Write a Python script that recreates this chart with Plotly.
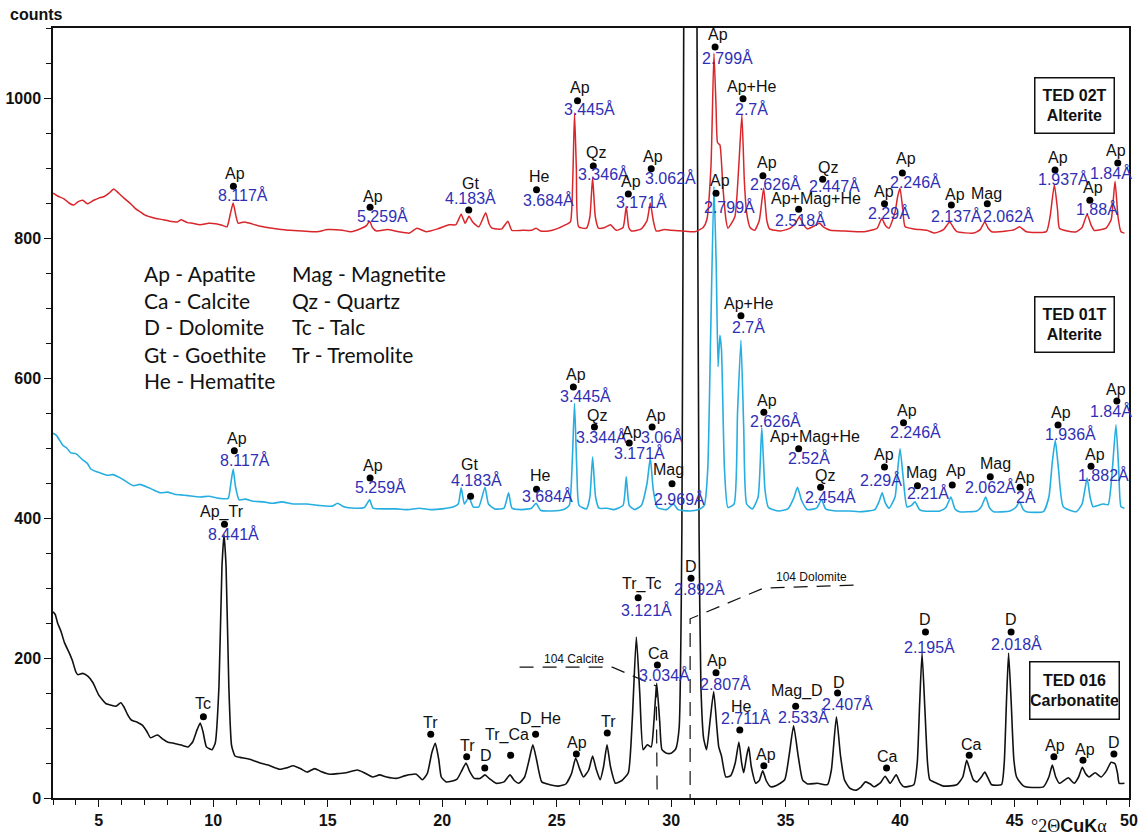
import plotly.graph_objects as go

# ---------------- data: diffractograms (2theta, counts) ----------------
black_x = [3.00,3.10,3.20,3.35,3.50,3.70,3.85,4.00,4.09,4.30,4.52,4.74,5.00,5.30,5.50,5.74,5.96,6.10,6.26,6.40,6.52,6.70,6.90,7.10,7.26,7.40,7.57,7.80,8.00,8.30,8.57,8.75,8.90,9.10,9.30,9.43,9.55,9.70,9.85,9.95,10.09,10.25,10.38,10.47,10.56,10.68,10.80,10.95,11.17,11.50,11.80,12.04,12.40,12.90,13.20,13.50,13.80,14.10,14.43,14.70,15.10,15.50,15.80,16.30,16.60,16.96,17.26,17.57,18.00,18.40,18.87,19.13,19.35,19.55,19.70,19.85,19.96,20.17,20.40,20.65,20.87,21.04,21.20,21.40,21.65,21.87,22.05,22.35,22.70,22.96,23.15,23.35,23.60,23.80,23.96,24.12,24.35,24.70,25.09,25.40,25.65,25.83,26.00,26.17,26.40,26.57,26.72,26.90,27.05,27.20,27.35,27.57,27.85,28.13,28.30,28.48,28.63,28.78,28.96,29.13,29.25,29.37,29.50,29.60,29.80,30.00,30.20,30.35,30.47,30.55,30.84,31.13,31.22,31.30,31.42,31.55,31.70,31.86,32.00,32.08,32.20,32.39,32.60,32.80,32.96,33.08,33.17,33.30,33.39,33.50,33.70,33.85,34.00,34.15,34.35,34.60,34.96,35.15,35.35,35.55,35.74,35.96,36.40,36.83,37.00,37.22,37.40,37.57,37.80,38.04,38.30,38.48,38.70,38.87,39.15,39.35,39.57,39.83,40.00,40.17,40.60,40.75,40.85,40.96,41.08,41.20,41.30,41.60,41.90,42.48,42.74,42.91,43.05,43.20,43.35,43.55,43.70,43.85,44.00,44.43,44.55,44.65,44.74,44.85,44.97,45.09,45.40,46.00,46.26,46.50,46.65,46.80,46.96,47.35,47.60,47.80,47.96,48.10,48.26,48.52,48.78,49.00,49.22,49.39,49.50,49.57,49.80]
black_y = [266,262,250,238,222,208,196,180,176,178,174,165,147,135,133,131,136,130,119,112,110,108,104,95,86,88,90,84,80,78,76,74,73,80,98,107,95,73,70,69,79,160,330,376,330,160,75,60,58,56,53,50,47,41,43,46,42,37,42,38,34,35,36,40,36,30,33,30,28,32,34,26,35,65,78,55,30,23,24,27,40,50,38,28,28,33,28,21,23,33,25,21,30,55,76,55,23,19,17,20,35,57,42,30,40,60,42,26,45,76,45,21,25,36,110,230,150,69,76,73,110,164,110,69,64,64,70,100,383,1100,3500,1100,383,160,85,69,110,152,100,73,60,30,32,50,80,50,36,60,73,45,21,25,39,25,16,18,26,60,103,60,26,20,21,19,40,116,60,26,14,11,16,23,20,16,22,31,21,33,22,16,19,50,130,207,130,50,26,21,17,19,30,54,40,26,23,30,37,28,19,19,50,140,207,140,55,30,17,15,16,30,47,30,21,29,21,30,44,35,30,36,30,38,51,49,35,21,21]

red_x = [3.00,3.20,3.48,3.70,3.90,4.10,4.30,4.50,4.78,5.00,5.22,5.45,5.65,5.87,6.10,6.39,6.60,6.83,7.00,7.26,7.50,7.83,8.10,8.43,8.60,8.87,9.10,9.43,9.80,10.17,10.40,10.60,10.75,10.87,11.00,11.09,11.35,11.60,12.00,12.35,12.80,13.35,13.90,14.52,15.00,15.65,16.00,16.48,16.70,16.83,16.95,17.13,17.60,18.10,18.57,18.90,19.30,19.80,20.30,20.60,20.83,21.00,21.17,21.35,21.60,21.90,22.05,22.17,22.60,22.87,23.04,23.50,23.90,24.10,24.30,24.65,25.00,25.40,25.60,25.70,25.78,25.86,25.96,26.30,26.45,26.57,26.69,26.83,27.10,27.35,27.60,27.90,28.04,28.15,28.26,28.70,28.95,29.09,29.22,29.35,29.70,30.00,30.50,31.04,31.40,31.56,31.74,31.87,31.96,32.03,32.13,32.26,32.40,32.48,32.78,32.95,33.09,33.20,33.30,33.45,33.65,33.85,34.04,34.18,34.30,34.78,35.20,35.45,35.60,35.80,35.96,36.30,36.48,36.65,36.96,37.60,38.43,39.00,39.20,39.36,39.52,39.78,39.90,40.00,40.12,40.22,40.60,41.17,41.52,41.90,42.17,42.35,42.48,43.22,43.50,43.70,43.85,44.00,44.65,45.00,45.22,45.52,46.39,46.55,46.74,46.88,46.96,47.30,47.70,47.95,48.17,48.35,48.48,48.80,49.00,49.22,49.39,49.52,49.65,49.80]
red_y = [864,860,856,850,847,852,854,849,854,857,859,864,870,864,857,849,842,837,833,830,828,826,824,823,826,822,821,819,821,820,818,816,835,850,830,821,823,821,817,815,813,811,810,809,812,811,809,814,818,824,815,810,812,809,807,814,809,813,819,819,834,821,831,822,816,836,820,814,813,824,811,811,811,814,810,810,813,819,823,880,979,900,816,814,830,886,830,814,815,819,811,815,845,815,810,813,825,850,825,810,812,811,810,809,815,826,902,1064,990,936,933,873,825,814,830,900,976,880,836,815,811,825,871,825,813,810,814,822,830,818,813,818,821,816,811,810,809,814,828,818,814,837,860,871,840,816,813,811,807,812,823,814,809,807,812,823,814,809,810,812,816,809,809,830,876,840,814,810,809,815,834,818,811,812,814,826,881,830,809,807]

cyan_x = [3.00,3.15,3.43,3.60,3.78,4.00,4.30,4.50,4.65,4.90,5.10,5.39,5.60,5.96,6.20,6.52,6.80,7.13,7.40,7.70,8.00,8.30,8.57,8.90,9.43,9.80,10.30,10.65,10.77,10.87,10.97,11.13,11.40,11.74,12.20,12.60,13.00,13.50,14.09,14.60,15.20,15.43,15.70,16.20,16.60,16.83,16.98,17.50,18.00,18.50,19.00,19.50,20.00,20.50,20.70,20.83,20.97,21.17,21.35,21.60,21.87,22.02,22.30,22.70,22.90,23.05,23.50,23.90,24.10,24.30,24.80,25.30,25.55,25.68,25.78,25.88,25.98,26.30,26.45,26.57,26.70,26.85,27.20,27.50,27.90,28.04,28.17,28.40,28.70,28.95,29.09,29.22,29.40,29.80,30.10,30.30,30.80,31.20,31.45,31.60,31.72,31.87,31.97,32.05,32.13,32.20,32.33,32.48,32.75,32.90,33.05,33.17,33.30,33.55,33.80,33.96,34.10,34.25,34.70,35.10,35.35,35.52,35.70,35.95,36.35,36.57,36.75,37.20,37.80,38.20,38.90,39.10,39.22,39.35,39.52,39.78,39.90,40.00,40.13,40.30,40.50,40.65,40.85,41.04,41.74,42.00,42.22,42.40,42.60,43.35,43.55,43.74,43.90,44.09,44.80,45.05,45.22,45.38,45.52,46.26,46.50,46.65,46.78,46.92,47.13,47.70,47.95,48.17,48.30,48.43,48.65,48.87,49.09,49.25,49.43,49.55,49.65,49.80]
cyan_y = [521,518,504,500,493,492,483,478,470,466,464,461,462,457,452,446,448,444,440,436,437,434,433,432,430,431,428,428,450,470,445,426,427,424,423,421,423,420,420,418,417,421,416,414,415,426,414,413,413,412,414,412,413,416,420,443,420,430,416,416,444,420,413,414,436,414,412,414,421,411,410,412,418,480,564,470,418,413,430,487,430,414,414,412,418,459,418,412,418,450,486,440,415,412,420,412,410,412,418,470,650,874,760,616,661,640,470,415,420,550,654,530,420,413,430,529,440,415,410,413,428,444,425,412,414,426,413,410,410,409,412,425,436,422,414,430,470,499,460,416,418,423,412,410,410,415,430,413,409,410,416,430,415,409,410,415,423,412,409,409,430,480,511,470,416,409,420,457,430,416,418,420,419,460,533,470,416,414]

# ---------------- peak labels ----------------
k_names = ["Tc","Ap_Tr","Tr","Tr","D","Tr_Ca","D_He","Ap","Tr","Tr_Tc","Ca","D","Ap","He","Ap","Mag_D","D","Ca","D","Ca","D","Ap","Ap","D"]
k_d = ["","8.441Å","","","","","","","","3.121Å","3.034Å","2.892Å","2.807Å","2.711Å","","2.533Å","2.407Å","","2.195Å","","2.018Å","","",""]
k_dot_x = [9.57,10.49,19.50,21.07,21.86,22.99,24.08,25.86,27.21,28.56,29.40,30.87,31.96,33.00,34.05,35.44,37.27,39.41,41.11,43.02,44.85,46.72,47.99,49.34]
k_dot_y = [116,391,91,59,43,61,91,63,93,286,190,314,179,97,46,131,150,43,237,61,237,59,54,63]

r_names = ["Ap","Ap","Gt","He","Ap","Qz","Ap","Ap","Ap","Ap+He","Ap","Ap","Ap+Mag+He","Qz","Ap","Ap","Ap","Mag","Ap","Ap","Ap"]
r_d = ["8.117Å","5.259Å","4.183Å","3.684Å","3.445Å","3.346Å","3.171Å","3.062Å","2.799Å","2.7Å","2.799Å","2.626Å","2.518Å","2.447Å","2.29Å","2.246Å","2.137Å","2.062Å","1.937Å","1.88Å","1.84Å"]
r_dot_x = [10.88,16.85,21.16,24.12,25.91,26.60,28.13,29.13,31.92,33.14,31.96,34.01,35.57,36.62,39.32,40.10,42.24,43.81,46.77,48.29,49.51]
r_dot_y = [874,844,840,869,996,903,863,899,1073,999,864,889,841,884,849,893,847,849,897,854,907]

c_names = ["Ap","Ap","Gt","He","Ap","Qz","Ap","Ap","Mag","Ap+He","Ap","Ap+Mag+He","Qz","Ap","Ap","Mag","Ap","Mag","Ap","Ap","Ap","Ap"]
c_d = ["8.117Å","5.259Å","4.183Å","3.684Å","3.445Å","3.344Å","3.171Å","3.06Å","2.969Å","2.7Å","2.626Å","2.52Å","2.454Å","2.29Å","2.246Å","2.21Å","","2.062Å","2Å","1.936Å","1.882Å","1.84Å"]
c_dot_x = [10.92,16.85,21.24,24.12,25.73,26.65,28.17,29.17,30.04,33.05,34.05,35.57,36.53,39.32,40.15,40.76,42.28,43.94,45.24,46.90,48.34,49.47]
c_dot_y = [496,457,431,441,587,530,507,530,449,689,551,499,444,473,536,446,447,459,444,533,474,567]

legend_col1 = ["Ap - Apatite","Ca - Calcite","D - Dolomite","Gt - Goethite","He - Hematite"]
legend_col2 = ["Mag - Magnetite","Qz - Quartz","Tc - Talc","Tr - Tremolite"]

samples = ["TED 02T<br>Alterite","TED 01T<br>Alterite","TED 016<br>Carbonatite"]

# leader lines (2theta, counts)
calcite_x = [23.38,27.43,29.35,29.39]
calcite_y = [187,187,160,0]
dolomite_x = [37.97,34.05,30.83,30.83]
dolomite_y = [304,300,256,0]

# ---------------- placement (pixel offsets: dx right, dy down) ----------------
k_name_off = [(0,-13),(-2,-12),(0,-12),(1,-11),(1,-12),(-4,-20),(5,-15),(1,-11),(1,-11),(3,-14),(1,-12),(0,-12),(1,-12),(2,-24),(2,-11),(1,-15),(1,-11),(1,-11),(0,-13),(2,-11),(0,-13),(1,-11),(2,-11),(0,-11)]
k_d_off = [None,(9,10),None,None,None,None,None,None,None,(8,12),(7,10),(8,11),(9,11),(6,-12),None,(8,11),(10,11),None,(4,15),None,(5,12),None,None,None]
r_name_off = [(2,-13),(3,-11),(2,-27),(3,-13),(3,-13),(3,-13),(3,-12),(2,-12),(3,-12),(8,-12),(4,-13),(4,-13),(17,-11),(5,-12),(-1,-12),(4,-14),(4,-11),(-1,-10),(3,-13),(3,-13),(-2,-13)]
r_d_off = [(10,9),(12,9),(2,-12),(12,10),(12,8),(10,8),(13,8),(19,9),(12,11),(8,10),(13,14),(13,8),(2,11),(12,7),(4,9),(13,9),(5,11),(21,12),(8,9),(7,9),(-7,10)]
c_name_off = [(3,-12),(3,-13),(-1,-32),(4,-14),(3,-13),(3,-12),(3,-11),(4,-12),(-4,-14),(8,-12),(3,-12),(16,-12),(4,-12),(-1,-12),(3,-12),(4,-13),(4,-15),(5,-13),(5,-10),(3,-12),(4,-12),(-1,-12)]
c_d_off = [(11,9),(10,9),(6,-16),(11,7),(12,9),(7,10),(10,10),(10,10),(7,15),(8,11),(12,9),(10,9),(10,10),(-4,13),(12,9),(11,7),None,(0,10),(6,10),(12,9),(12,9),(-6,10)]

RED = "#d9262b"
CYAN = "#27aee0"
DBLUE = "#2f2fb5"
FONT = "Liberation Sans"

fig = go.Figure()

fig.add_trace(go.Scatter(x=black_x, y=black_y, mode="lines",
                         line=dict(color="#111111", width=1.6, shape="spline", smoothing=0.5),
                         hoverinfo="skip", showlegend=False))
fig.add_trace(go.Scatter(x=cyan_x, y=cyan_y, mode="lines",
                         line=dict(color=CYAN, width=1.6, shape="spline", smoothing=0.5),
                         hoverinfo="skip", showlegend=False))
fig.add_trace(go.Scatter(x=red_x, y=red_y, mode="lines",
                         line=dict(color=RED, width=1.5, shape="spline", smoothing=0.5),
                         hoverinfo="skip", showlegend=False))

for lx, ly in [(calcite_x, calcite_y), (dolomite_x, dolomite_y)]:
    fig.add_trace(go.Scatter(x=lx, y=ly, mode="lines",
                             line=dict(color="#111111", width=1.2, dash="14px,9px"),
                             hoverinfo="skip", showlegend=False))

annotations = []

def add_labels(names, ds, xs, ys, name_off, d_off):
    fig.add_trace(go.Scatter(x=xs, y=ys, mode="markers",
                             marker=dict(color="black", size=7),
                             hoverinfo="skip", showlegend=False))
    for i, (nm, dv, x, y) in enumerate(zip(names, ds, xs, ys)):
        dx, dy = name_off[i]
        annotations.append(dict(x=x, y=y, xref="x", yref="y", text=nm, showarrow=False,
                                xshift=dx, yshift=-dy, xanchor="center", yanchor="middle",
                                font=dict(family=FONT, size=16, color="#111111")))
        if dv and d_off[i] is not None:
            dx, dy = d_off[i]
            annotations.append(dict(x=x, y=y, xref="x", yref="y", text=dv, showarrow=False,
                                    xshift=dx, yshift=-dy, xanchor="center", yanchor="middle",
                                    font=dict(family=FONT, size=16, color=DBLUE)))

add_labels(k_names, k_d, k_dot_x, k_dot_y, k_name_off, k_d_off)
add_labels(r_names, r_d, r_dot_x, r_dot_y, r_name_off, r_d_off)
add_labels(c_names, c_d, c_dot_x, c_dot_y, c_name_off, c_d_off)

# mineral legend
leg_rows_y = [750, 711, 673, 634, 596]
for i, t in enumerate(legend_col1):
    annotations.append(dict(x=6.87, y=leg_rows_y[i], xref="x", yref="y", text=t, showarrow=False,
                            xanchor="left", yanchor="middle",
                            font=dict(family="Lato", size=21, color="#111111")))
for i, t in enumerate(legend_col2):
    annotations.append(dict(x=13.36, y=leg_rows_y[i], xref="x", yref="y", text=t, showarrow=False,
                            xanchor="left", yanchor="middle",
                            font=dict(family="Lato", size=21, color="#111111")))

# sample boxes
box_pos = [(47.64, 990, 78, 54), (47.64, 676, 78, 54), (47.64, 154, 88, 56)]
for t, (bx, by, bw, bh) in zip(samples, box_pos):
    annotations.append(dict(x=bx, y=by, xref="x", yref="y", text="<b>" + t + "</b>", showarrow=False,
                            xanchor="center", yanchor="middle", width=bw, height=bh,
                            bordercolor="#111111", borderwidth=1.5, borderpad=0, bgcolor="white",
                            font=dict(family=FONT, size=16, color="#111111")))

# reference-line captions
annotations.append(dict(x=25.75, y=198, xref="x", yref="y", text="104 Calcite", showarrow=False,
                        xanchor="center", yanchor="middle",
                        font=dict(family=FONT, size=12, color="#111111")))
annotations.append(dict(x=36.15, y=316, xref="x", yref="y", text="104 Dolomite", showarrow=False,
                        xanchor="center", yanchor="middle",
                        font=dict(family=FONT, size=12, color="#111111")))

# axis captions
annotations.append(dict(x=-0.015, y=1.018, xref="paper", yref="paper", text="<b>counts</b>",
                        showarrow=False, xanchor="center", yanchor="middle",
                        font=dict(family=FONT, size=16, color="#111111")))
annotations.append(dict(x=47.4, y=-0.051, xref="x", yref="paper",
                        text='<span style="font-family:Liberation Serif">°2Θ</span><b>CuK</b><span style="font-family:Liberation Serif">α</span>',
                        showarrow=False, xanchor="center", yanchor="bottom", borderpad=0,
                        font=dict(family=FONT, size=18, color="#111111")))

fig.update_layout(
    width=1143, height=838,
    margin=dict(l=53, r=14, t=28, b=40, autoexpand=False),
    paper_bgcolor="white", plot_bgcolor="white",
    showlegend=False,
    annotations=annotations,
    xaxis=dict(range=[3, 50], tickmode="array", tickvals=[5,10,15,20,25,30,35,40,45,50],
               automargin=False,
               ticks="outside", ticklen=7, tickwidth=1.2, tickcolor="#111111",
               minor=dict(dtick=1, tick0=0, ticks="outside", ticklen=5, tickwidth=1, tickcolor="#111111"),
               showgrid=False, zeroline=False, showline=True, linecolor="#111111", linewidth=1.5, mirror=True,
               tickfont=dict(family=FONT, size=16, color="#111111", weight="bold")),
    yaxis=dict(range=[0, 1100], tickmode="array", tickvals=[0,200,400,600,800,1000],
               automargin=False,
               ticks="outside", ticklen=7, tickwidth=1.2, tickcolor="#111111",
               minor=dict(dtick=50, tick0=0, ticks="outside", ticklen=5, tickwidth=1, tickcolor="#111111"),
               showgrid=False, zeroline=False, showline=True, linecolor="#111111", linewidth=1.5, mirror=True,
               tickfont=dict(family=FONT, size=16, color="#111111", weight="bold")),
)

fig.write_html("out.html")
